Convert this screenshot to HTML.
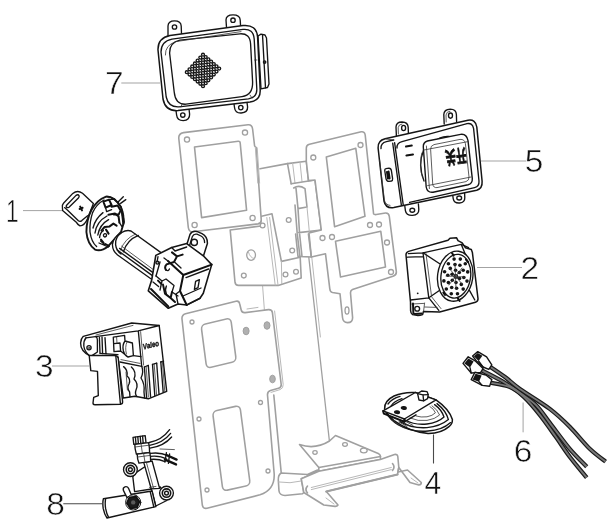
<!DOCTYPE html>
<html><head><meta charset="utf-8"><title>Parts diagram</title>
<style>
html,body{margin:0;padding:0;background:#fff;}
body{width:612px;height:527px;overflow:hidden;position:relative;font-family:"Liberation Sans",sans-serif;}
svg{position:absolute;left:0;top:0;display:block;}
.g{fill:none;stroke:#a0a0a0;stroke-width:1.6;stroke-linejoin:round;stroke-linecap:round;}
.gf{fill:#fff;stroke:#a0a0a0;stroke-width:1.6;stroke-linejoin:round;stroke-linecap:round;}
.gh{fill:#fff;stroke:#a0a0a0;stroke-width:1.3;}
.gd{fill:#b0b0b0;stroke:#a0a0a0;stroke-width:1;}
.g2{fill:none;stroke:#b8b8b8;stroke-width:1;stroke-linejoin:round;stroke-linecap:round;}
.k{fill:none;stroke:#151515;stroke-width:1.35;stroke-linejoin:round;stroke-linecap:round;}
.kf{fill:#fff;stroke:#151515;stroke-width:1.35;stroke-linejoin:round;stroke-linecap:round;}
.kt{fill:none;stroke:#333;stroke-width:0.8;stroke-linejoin:round;stroke-linecap:round;}
.kb{fill:none;stroke:#111;stroke-width:2;stroke-linejoin:round;stroke-linecap:round;}
.d{fill:#151515;stroke:none;}
.ld{fill:none;stroke:#999;stroke-width:0.9;}
text{filter:grayscale(1);}
.num{font-family:"Liberation Sans",sans-serif;font-size:31.6px;fill:#111;stroke:#fff;stroke-width:0.55px;}
</style></head>
<body>
<svg width="612" height="527" viewBox="0 0 612 527">
<rect width="612" height="527" fill="#fff"/>

<!-- ============ BRACKET (grey) ============ -->
<g id="bracket">
<!-- column -->
<path class="g2" d="M262.6,286 L264.4,310"/>
<path class="g" style="stroke-width:1.3" d="M308.8,257.4 L329.4,441"/>
<path class="g2" d="M311.7,256.6 L320.4,337"/>
<path class="g" d="M273.8,395 L281.2,472.5"/>
<!-- middle piece D -->
<path class="gf" d="M230.2,230 L235,282.2 Q235.4,285.4 238.5,285.4 L278.2,285.4 L301.2,278 L300.2,257.2 L281.4,261.4 L272,213.8 L260.5,216.5 L260.8,226 Z"/>
<path class="g2" d="M266.8,217.6 L275.2,285 M269.6,217.4 L278,284.8 M281.4,261.4 L281.8,283.6"/>
<ellipse class="gh" cx="251.1" cy="255.1" rx="4.4" ry="5.2"/><path class="g2" d="M248.4,252 Q250,258 254.4,258.6"/>
<circle class="gh" cx="243.8" cy="275.6" r="2.4"/><circle class="gh" cx="285.5" cy="274.5" r="2.4"/><circle class="gh" cx="296" cy="271.8" r="2.4"/>
<circle class="gh" cx="292.2" cy="250.5" r="2.4"/><circle class="gh" cx="288.7" cy="220" r="2.4"/><circle class="gh" cx="262.6" cy="225.5" r="2.4"/>
<path class="g" d="M295,205 L297.2,233.4 L300,257"/>
<!-- top-left plate A -->
<path class="gf" d="M178.8,138.5 Q178.3,133.6 183.5,132.6 L248,124.8 Q252,124.4 252.6,129 L254.6,146 L256.2,147.5 L261.2,219.5 Q261.5,223.3 258,223.9 L193,231.8 Q189,232.2 188.3,227.5 Z"/>
<path class="g2" d="M255.3,147 L257.8,183 M257.2,147.8 L259.6,183"/>
<path class="g" d="M194.5,147 L238.2,141.2 Q240,141 240.2,143 L246.6,210.3 L201.6,217.6 Z"/>
<circle class="gh" cx="187" cy="139.6" r="2.6"/><circle class="gh" cx="245" cy="132.6" r="2.6"/>
<circle class="gh" cx="252.6" cy="218" r="2.6"/><circle class="gh" cx="194.6" cy="225" r="2.6"/>
<!-- channel top -->
<path class="g" d="M260,168.8 L287.5,163.6 L306.3,161.2"/>
<path class="g" d="M287.5,163.6 L291.2,183.8 M306.3,161.2 L308.5,180.6"/>
<path class="g2" d="M292.6,163 L295,183 M300,162 L302,181.5"/>
<path class="g" d="M291.2,183.8 L315,180 L321.3,230 L298.8,232.6"/>
<path class="g2" d="M318.6,180.4 L325,229.6"/>
<path class="g" d="M293.7,188 Q299,184.5 305,188.6 L307,207 L298,208.6 L296,188.4 M298,208.6 L299.5,232.5"/>
<path class="g2" d="M307,207 L309.3,231.4"/>
<!-- right plate B+C -->
<path class="gf" d="M306.3,161.2 L306.3,148 Q306.4,145 309.5,144.3 L361.2,131.8 Q364.6,131.2 365.2,135 L373.6,214 Q374.5,214.8 376.3,214.5 L385.5,213 Q388.8,212.8 389.3,216.3 L396.3,271.3 Q396.8,275.2 393,276.3 L352.5,289.5 Q350.4,290.4 350.5,293 L352.6,317.5 Q352.8,322.6 347.5,322.6 Q343,322.6 342.5,317.5 L340,293.8 L332.5,292.5 Q330,292 329.8,288.8 L325.5,253.8 L311.3,257 L309,233 L321.3,230 L315,180 L308.5,180.6 Z"/>
<path class="g" d="M326.3,157 L355.8,148.3 L365,216.3 L334.6,226.8 Z"/>
<path class="g" d="M335.5,241.3 L380.8,231.3 L385.5,267 L340.5,277 Z"/>
<circle class="gh" cx="313.3" cy="157.5" r="2.5"/><circle class="gh" cx="360.5" cy="145" r="2.5"/>
<circle class="gh" cx="322.5" cy="238" r="2.5"/><circle class="gh" cx="332" cy="237" r="2.5"/>
<circle class="gh" cx="370" cy="225" r="2.5"/><circle class="gh" cx="379" cy="224.5" r="2.5"/>
<circle class="gh" cx="387" cy="242.5" r="2.5"/><circle class="gh" cx="391" cy="272" r="2.5"/>
<ellipse class="gh" cx="347" cy="310.5" rx="2" ry="3.6"/>
<!-- channel bottom fold -->
<path class="g" d="M295.6,234 L298,256.4 L311.3,257 M299.6,234 L302,256.4 M308.4,234 L311.3,256.8"/>
<!-- lower-left plate E -->
<path class="gf" d="M182,319 Q181.6,315 185.5,313.8 L236,301.2 Q239,300.6 239.6,303.5 L241.2,310 Q242,313 245.2,312.6 L268.5,309.6 Q272,309.4 272.4,312.6 L281.2,384.5 Q281.4,387.4 278.5,388.2 L270.5,390.6 Q267.3,391.6 267.5,395 L274.2,474 Q274.8,490 260,494.8 L207,508.2 Q203,509 202.3,505 Z"/>
<path class="g2" d="M274.6,311 L283.2,384.5 Q283.4,388.4 280,389.6 L271,392.4 M247,309 L258,307.4"/>
<rect class="g" x="0" y="0" width="30.5" height="43.5" rx="4.5" transform="translate(201,325) rotate(-13.5) skewX(-6)"/>
<rect class="g" x="0" y="0" width="28" height="80" rx="4.5" transform="translate(212.5,411.5) rotate(-12.5) skewX(-5)"/>
<circle class="gh" cx="192" cy="322" r="2"/><ellipse class="gd" cx="246.1" cy="331" rx="3" ry="3.8"/><ellipse class="gd" cx="267" cy="325.5" rx="3" ry="3.8"/>
<ellipse class="gd" cx="272.5" cy="379" rx="2.8" ry="3.8"/><circle class="gh" cx="260.5" cy="402.5" r="2"/><circle class="gh" cx="199" cy="419" r="2"/>
<circle class="gh" cx="268" cy="471" r="2"/><circle class="gh" cx="207" cy="490" r="2"/>
<!-- base G -->
<path class="gf" d="M281.3,473 Q278,475 278.3,480 L279,491 Q279.6,495.4 285,495.5 L302.5,493.8 L303.8,492.5 L301.3,478.8 L318.8,471.3 L317.5,470 L307.5,474.5 Z"/>
<path class="g2" d="M278.6,482 Q290,484 301.5,481"/>
<path class="gf" d="M299.5,444.5 Q315,450 329.5,441 L335.5,435.5 L378.8,453.8 Q380.6,455 380.5,456.5 L380.3,459.5 L318.8,471.3 L318.8,467.5 Z"/>
<path class="g" d="M318.8,467.5 L380.5,456.5"/>
<ellipse class="gh" cx="315" cy="452.5" rx="2.2" ry="1.8"/><ellipse class="gh" cx="345" cy="444.5" rx="2.4" ry="1.8"/><ellipse class="gh" cx="363.8" cy="450.5" rx="3.4" ry="2.4"/>
<path class="gf" d="M301.3,478.8 L318.8,471.3 L380.3,459.5 L394.5,454.5 Q397.5,454 397.8,456.5 L398.8,467.5 L397.5,474.5 L326.3,491.5 L338,505 Q337,506.6 335,506.4 L323.8,505 L303.8,492.5 Z"/>
<path class="g2" d="M311.3,487.5 L391.3,467.5 M311.3,489.6 L391.3,469.6" />
<path class="g" style="stroke-width:2.2" d="M326.3,491.5 L397.5,474.5"/>
<path class="g" d="M307.5,486 Q304.5,489.5 307.5,493 M392.5,463.5 Q395.5,467 392.5,470.5"/>
<path class="gf" d="M398.8,467.5 L410,482.5 L418.8,485 Q421.5,484.6 421.3,482.5 L407.5,470 L398,472 Z"/>
<path class="g2" d="M326,498 L334,504 M411,478 L418,483"/>

</g>

<!-- ============ PARTS (black) ============ -->
<g id="p7"><path class="kf" d="M168,35.5 L168,26 Q168.2,20.8 174.5,20.8 Q181,20.8 181.2,26 L181.5,33.5"/>
<path class="kf" d="M226.5,27.5 L226,20 Q226,14.8 233,14.8 Q240,14.8 240.2,20 L240.6,26"/>
<path class="kf" d="M176,110.5 L176.6,115 Q177.2,120.6 183.2,120.6 Q190,120.2 189.6,114 L189,109"/>
<path class="kf" d="M234,104 L234.6,108 Q235.2,113.2 241.2,113 Q247.8,112.6 247.6,107 L247,102.5"/>
<path class="kf" d="M258,36 L261,34.2 L265,35 L266.5,38 L269,84 L267.5,87.5 L261,88.8 Z"/>
<path class="k" d="M262.5,35 L265.5,87.8"/>
<circle class="k" cx="264.6" cy="62" r="1.2"/>
<path class="kf" style="stroke-width:1.5" d="M158,50 Q157.6,38 170,35.5 L243,25.5 Q256.5,24.2 257.6,37 L260.2,90 Q260.6,100.4 250,102 L178,110.6 Q165.4,111.4 163,99 Z"/>
<path class="k" d="M161,52 Q161,41.5 172,39.2 L243,29.4 Q253.4,28.4 254.2,39 L256.8,89 Q257.2,97.4 248.4,98.8 L179,106.8 Q168.4,107.4 166.2,97 Z"/>
<path class="k" d="M169.6,53 Q169.4,42.5 180,40.2 L240,33.8 Q250,33.2 250.6,44 L252.6,82 Q253,95 242,96.6 L186,104.2 Q175.4,104.8 174.2,92 Z"/>
<path class="kt" d="M165.4,55 Q165,45 176,41.6 L241,31.6 M254.6,60 L257,60 M252,98 L250,95 M181,107 L182,104"/>
<circle class="k" cx="174.5" cy="27" r="2.2"/><circle class="k" cx="233" cy="20.2" r="2.2"/><circle class="k" cx="182.8" cy="115" r="2.2"/><circle class="k" cx="240.8" cy="107.6" r="2.2"/>
<g fill="none" stroke="#151515" stroke-width="1.35"><circle cx="203.0" cy="54.7" r="1.45"/><circle cx="200.3" cy="57.6" r="1.45"/><circle cx="197.6" cy="60.5" r="1.45"/><circle cx="194.9" cy="63.4" r="1.45"/><circle cx="192.2" cy="66.4" r="1.45"/><circle cx="189.5" cy="69.3" r="1.45"/><circle cx="186.8" cy="72.2" r="1.45"/><circle cx="205.7" cy="57.0" r="1.45"/><circle cx="203.0" cy="59.9" r="1.45"/><circle cx="200.3" cy="62.8" r="1.45"/><circle cx="197.6" cy="65.8" r="1.45"/><circle cx="194.9" cy="68.7" r="1.45"/><circle cx="192.2" cy="71.6" r="1.45"/><circle cx="189.5" cy="74.5" r="1.45"/><circle cx="208.4" cy="59.3" r="1.45"/><circle cx="205.7" cy="62.2" r="1.45"/><circle cx="203.0" cy="65.2" r="1.45"/><circle cx="200.3" cy="68.1" r="1.45"/><circle cx="197.6" cy="71.0" r="1.45"/><circle cx="194.9" cy="73.9" r="1.45"/><circle cx="192.2" cy="76.9" r="1.45"/><circle cx="211.1" cy="61.6" r="1.45"/><circle cx="208.4" cy="64.6" r="1.45"/><circle cx="205.7" cy="67.5" r="1.45"/><circle cx="203.0" cy="70.4" r="1.45"/><circle cx="200.3" cy="73.3" r="1.45"/><circle cx="197.6" cy="76.2" r="1.45"/><circle cx="194.9" cy="79.2" r="1.45"/><circle cx="213.8" cy="64.0" r="1.45"/><circle cx="211.1" cy="66.9" r="1.45"/><circle cx="208.4" cy="69.8" r="1.45"/><circle cx="205.7" cy="72.7" r="1.45"/><circle cx="203.0" cy="75.7" r="1.45"/><circle cx="200.3" cy="78.6" r="1.45"/><circle cx="197.6" cy="81.5" r="1.45"/><circle cx="216.5" cy="66.3" r="1.45"/><circle cx="213.8" cy="69.2" r="1.45"/><circle cx="211.1" cy="72.1" r="1.45"/><circle cx="208.4" cy="75.1" r="1.45"/><circle cx="205.7" cy="78.0" r="1.45"/><circle cx="203.0" cy="80.9" r="1.45"/><circle cx="200.3" cy="83.8" r="1.45"/><circle cx="219.2" cy="68.6" r="1.45"/><circle cx="216.5" cy="71.5" r="1.45"/><circle cx="213.8" cy="74.5" r="1.45"/><circle cx="211.1" cy="77.4" r="1.45"/><circle cx="208.4" cy="80.3" r="1.45"/><circle cx="205.7" cy="83.2" r="1.45"/><circle cx="203.0" cy="86.2" r="1.45"/></g></g>
<g id="p1"><!-- key -->
<path class="kf" d="M62.4,207 Q62,205 63.5,203.2 L72.8,193.4 Q77.5,189.6 82.5,193.2 L93.4,203.4 L87.6,218.4 Q84.5,225.8 80,225.8 Q77.6,224.6 76.6,222.6 L62.6,210.4 Z"/>
<path class="k" d="M64.6,207.6 L67.6,210.2 L78.4,220.8 Q80,222 81.8,220.6 L87.6,215.8"/>
<path class="k" d="M66.6,205.2 L76,195.4 Q78,194 79,195.6 Q79.6,196.8 78.4,198 L69,207.2 Q67.4,208.2 66.4,207 Q65.8,206 66.6,205.2 Z"/>
<path class="kb" d="M80.2,206.6 L82,210.4 M79.6,209 L82.6,207.8"/>
<!-- ring -->
<path class="kf" style="stroke-width:1.9" d="M106,196.6 Q97,200 91.4,210 Q86.4,220 86.4,232 Q87.4,244 95,249.6 Q101,252 108,246.4 L121,232 L124,222 L121,207 Q114,196 106,196.6 Z"/>
<path class="k" d="M104,200 Q96.6,204 92.6,212.6 Q89.4,222 90,232 Q91.4,242 96.6,246.6"/>
<path class="k" d="M106,196.6 Q114,196 121,207 Q124.6,214 123.6,224"/>
<!-- wires -->
<path class="k" d="M118.3,201.7 L123.3,196.7 M120.6,203.4 L125.8,199.6"/>
<!-- inner clips -->
<path class="kb" d="M103.4,201.6 L109,199.6 L111.6,205 L105.6,207.6 Z M111.6,206.8 L117.6,205.6 L120.6,210.6 L118.6,214.6 L113.6,214.4"/>
<path class="k" d="M105.6,207.6 L106.6,211.6 L111.6,209.6 M109,199.6 L114.6,199 L118.6,203.6 M121.4,210 L123,224"/>
<path class="kb" d="M108.4,214.8 L115,213.6 L118.6,216.6 L119.4,222.6"/>
<path class="k" d="M119.4,222.6 L122,226.6"/>
<path class="k" d="M95,233 Q96.6,221.6 107,216 M97.8,235 Q99.6,224.6 108.6,219.6 M93,228 Q95,219 103,212.6"/>
<path class="kb" d="M101.4,230.6 L104.6,227 L109.6,226.4 L113.4,223.6 L116.6,225.6"/>
<path class="k" d="M99.6,237.6 Q100,232.6 103.4,230.6 M103.4,235 Q104.8,232.6 106.4,234.2 Q107,236.6 104.8,237 Q103.4,236.6 103.4,235 Z M100.6,241 L104.6,244.4 M99,243 L108.4,247"/>
<path class="kb" d="M101,239.6 L103.6,242.8 M105.4,244 L109,246 M106,229.6 L108.6,233.6"/>
<!-- cylinder -->
<path class="kf" d="M121.7,232.5 Q126.5,229.6 131,231 L161,252.6 L152.6,280 L117.6,255 Q112.6,251.4 112.4,244.6 Q113,237.4 121.7,232.5 Z"/>
<path class="k" d="M121.7,232.5 Q114.8,237.6 115.6,244.6 Q116.2,250.4 121,254"/>
<path class="k" d="M138.4,235.4 Q127,240 123.4,251.8"/>
<path class="kt" d="M135.6,234 Q124.6,238.6 120.6,250"/>
<path class="k" d="M117.2,250 L153.4,276.4 M119.6,248.4 L154.4,273.6"/>
<path class="kt" d="M121.6,246.2 L155.2,271"/>
<!-- box -->
<path class="kf" style="stroke-width:1.5" d="M186.7,245 L190,234.4 Q192,230.4 196.8,231.4 L202,233.6 Q207.6,236.4 207.4,243.4 L203.3,256.4 Z"/>
<circle class="k" cx="194.3" cy="242.4" r="3.1"/>
<path class="k" d="M189.4,246 L192.4,236.4 Q193.6,233.6 197,234.2 L201,236 Q204.6,238 204.6,242.6"/>
<path class="kf" style="stroke-width:1.6" d="M155.8,255.4 L171.7,247.5 L186.7,243.6 L203.3,255.8 L211.7,264.6 L203.3,293.3 L200,298.3 L186.7,305 L178,304 L168.3,308.3 L148.3,290.8 L151.7,280 Z"/>
<path class="kb" d="M183.3,275 L211.7,264.6 M183.3,275 L180,291 L186.7,305 M168,261 L183.3,275"/>
<path class="k" d="M186,277.6 L208.6,269 M171.7,247.5 L175,251 L186.7,247 M180,291 L176,294 L178,304"/>
<path class="k" d="M195.6,281.4 L199.4,279.6 L198,287.6 L194.4,289.4 Z"/>
<path class="kb" d="M172,252.4 L177,256.4 L174,262 L166.6,264.4 M177,256.4 L182.6,254.6 M166.6,264.4 Q164,267 166,270"/>
<path class="k" d="M158,256.6 L157,262 M160,262 L156,276 M164,258 L168,261 M175,262.4 L181,268 M166,270 Q168.4,271.6 169.4,269"/>
<circle class="k" cx="157.4" cy="262.6" r="1.5"/>
<path class="k" d="M156,276 L162,281 L166,279 L174,285.6 L172,292 L178,296 M162,281 L160,290 M153,282 L158.6,286.6"/>
<path class="kb" d="M151,289 L168.3,306.4 M158,280.6 L161,283.6 M163,284.6 L165,293.6 L170.6,298 M172,292 L170.6,298 L175,302"/>
<path class="k" d="M166.4,286 Q164.6,290 166.4,294 M186.7,305 L200,298.3 M183,296 L201,288"/>
</g>
<g id="p3"><!-- body -->
<path class="kf" style="stroke-width:1.4" d="M83.3,336.3 L131.7,323 L159.2,325.5 L166.7,391.3 L148.3,398.8 L135,396.3 L123.3,398 L118,357 L90,356 Q80.4,351 80.6,343 Q81,338.4 83.3,336.3 Z"/>
<path class="k" d="M86,337.8 L138.3,330.8 L159.2,325.5 M138.3,330.8 L141.7,366.3"/>
<path class="kt" d="M96,335 L133,325.4 M140.6,331.6 L143.6,365"/>
<!-- hinge -->
<path class="k" d="M86,337.8 Q83.4,341 83.8,346 Q84.6,351.6 89.2,355.4 M95.8,336.6 Q97.4,337.6 97.4,340 L97.4,352 L92,355.6 M99.4,337.4 L100,353 M102,337 L102.6,353.6"/>
<circle class="k" cx="89" cy="347.8" r="2.1"/><circle class="kt" cx="89" cy="347.8" r="0.9"/>
<!-- knob -->
<path class="k" d="M113.3,337.2 L124.6,335.4 L125,341 L132.4,343 L133.4,355.6 L128,357 L120.6,351 L114,351.6 Z M114,343.6 L120,343 L120.6,351 M125,341 Q122,345 123.4,351 Q125,356 128,357"/>
<path class="kt" d="M116.6,336.8 L117,343.2 M127,342 Q124.6,347 126.4,354"/>
<path class="k" d="M105,337.6 L106,354 M100,353.4 L118,354.6 M133.4,355.6 L141,356.6"/>
<!-- lower curvy -->
<path class="k" d="M120,362 L141.7,366.3 M123.6,366.6 Q128,370 127,376 Q131,379 129,384 Q126.6,388 129.6,392 L130,396.6"/>
<path class="k" d="M131.4,367 Q137,372 134,379 Q139,384 136,390 Q134.6,394 137,396.6 M141.7,366.3 Q144,372 141,378 Q145,384 144,392 L144.6,398"/>
<path class="kt" d="M121,359.6 L140,363.4 M126,372 L127.4,390"/>
<!-- ribs -->
<path class="k" d="M144.4,367 L146.6,397.6 M148.3,365.4 L150.6,397 M152.5,364.4 L154.8,395.6 M156.7,363.2 L159,394 M160.8,362 L163.2,392.4"/>
<path class="k" d="M144.4,367 L148.3,365.4 M152.5,364.4 L156.7,363.2 M160.8,362 L163.6,361.2"/>
<path class="kt" d="M146.2,367 L148.4,397 M154.2,364.4 L156.6,395 M162.4,361.8 L164.8,392"/>
<!-- cover -->
<path class="kf" style="stroke-width:1.4" d="M89.2,355.5 L114.2,355.5 Q117.6,355.6 118.2,358 L122.6,401.6 Q122.8,404 120.6,404.2 L95,404.8 Q93,404.8 93,403 L93.7,397.4 L98.3,395.6 L97.5,371.4 L90.8,370.6 Z"/>
<path class="k" d="M115.8,356 L120.4,403.6"/>

<text transform="translate(143.6,349.4) rotate(-13) scale(1,1.25)" style="font-family:'Liberation Sans',sans-serif;font-weight:700;font-style:italic;font-size:6.2px;fill:#111;stroke:#111;stroke-width:0.3px;">Valeo</text>
</g>
<g id="p8"><!-- wires upper -->
<path class="k" d="M149.3,442.5 Q162,440 169.6,429.6 M149.6,445.4 Q163,443 170.6,433.4 M150,448.2 Q164,446 171.6,437"/>
<!-- wires lower -->
<path class="k" d="M150.2,453.4 Q160,452 168,455.6 M150.2,456.4 Q160,455.4 166.6,459 M150.6,459.4 Q158,458.6 165,461.6"/>
<path class="kt" d="M160,449 L174.4,449.6"/>
<path class="kb" style="stroke-width:2.4" d="M166.4,455 L176.6,459.6 M165,459.6 L176,464.4"/>
<path class="k" d="M166.4,452.6 L165,462 M169.6,454 L168.4,463.4"/>
<!-- lugs + web -->
<path class="kf" d="M132.8,476.6 L134.6,491.6 L151.6,489 L146,466 L136.4,472.4 Z"/>
<circle class="kf" cx="130.4" cy="469.6" r="6.9"/><circle class="k" cx="130.4" cy="469.6" r="4.2" style="stroke-width:1.6"/><circle class="k" cx="130.4" cy="469.6" r="1.9"/>
<path class="kf" d="M151.2,488.5 L160.4,487 L166.8,500.5 L155.8,506 Z"/>
<circle class="kf" cx="166.5" cy="493.1" r="6.9"/><circle class="k" cx="166.5" cy="493.1" r="4.2" style="stroke-width:1.6"/><circle class="k" cx="166.5" cy="493.1" r="1.9"/>
<!-- vertical tube -->
<path class="kf" d="M143.8,462.6 L152.1,461 L159.6,488.4 L151.2,488.8 Z"/>
<path class="kt" d="M146.4,462.4 L153.6,488.4 M149.4,487.4 L156,486.4"/>
<!-- fittings -->
<path class="kf" d="M133,437.4 L145.2,435.6 L146,442.8 L133.8,444.4 Z"/>
<path class="k" d="M135.4,437.2 L136,444 M137.8,436.8 L138.4,443.8 M140.2,436.4 L140.8,443.4 M142.6,436.2 L143.2,443.2"/>
<path class="kf" d="M134.8,444.4 L148.6,442.6 Q149.6,447.6 149.6,452.4 L136.4,454.2 Q134.8,449 134.8,444.4 Z"/>
<path class="kf" d="M137.2,454.2 L149.8,452.6 Q150.8,457 150.6,461.4 L139,463.2 Q137.2,459 137.2,454.2 Z"/>
<path class="kt" d="M135,447 L149.2,445.2 M141,443.6 L142.4,453.4 M137.6,457 L150.4,455.4 M143.6,453.4 L145,462.2"/>
<!-- horizontal tube -->
<path class="kf" style="stroke-width:1.4" d="M103.4,498.8 L152.1,491 L155.8,506.6 L107,518 Q104.4,514.6 103.2,508.4 Q102.4,502.6 103.4,498.8 Z"/>
<path class="k" d="M150.2,491.6 L153.8,507 M105.6,499 Q104.8,503 105.6,508.4 Q106.6,514 108.6,517.4"/>
<!-- peg -->
<path class="kf" d="M123.4,490.4 Q122.6,487.6 125,486.8 Q127.4,486.2 128.6,488.4 L131.6,495.6 L127,497.6 Z"/>
<!-- nut -->
<circle class="kf" cx="133.2" cy="502.4" r="7.6" style="stroke-width:1"/>
<path d="M129.4,497.2 L136.2,496.6 L139.6,501.8 L137,507.8 L130.2,508.4 L126.8,503 Z" fill="#1c1c1c" stroke="#111" stroke-width="1.6" stroke-linejoin="round"/>
<circle cx="133.2" cy="502.4" r="2.2" fill="#5a5a5a"/>
</g>
<g id="p5"><!-- tabs -->
<path class="kf" d="M396.4,136 L396,127 Q396.2,122 402,122 Q408,122.2 408.2,127.4 L408.4,133.6"/>
<path class="kf" d="M444.2,124 L443.8,114.6 Q444,109.2 450.2,109.2 Q456.2,109.4 456.4,114.6 L456.6,121.4"/>
<path class="kf" d="M404.8,206 L405.4,210.6 Q406.2,215.6 412.4,215.4 Q419,214.8 418.8,209.4 L418.4,204"/>
<path class="kf" d="M452.8,195.6 L453.2,198.6 Q454,203.4 459.6,203 Q465,202.4 464.8,197.6 L464.6,193.4"/>
<ellipse class="k" cx="403.6" cy="128" rx="2" ry="2.6"/><ellipse class="k" cx="450.5" cy="115.6" rx="2" ry="2.6"/>
<ellipse class="k" cx="412.3" cy="210.2" rx="2.4" ry="2"/><ellipse class="k" cx="459.2" cy="198" rx="2.4" ry="2"/>
<path class="kt" d="M398.4,134 L398.2,127.6 Q398.6,124.2 402,124 M446.2,122 L446,115 Q446.4,111.4 450,111.2"/>
<!-- body -->
<path class="kf" style="stroke-width:1.5" d="M378.1,148 Q377.6,140.6 385.1,138.8 L468,120.3 Q475.6,119 476.8,127 L482.1,181.3 Q482.6,188.6 476.7,190.2 L393.8,207.6 Q385.6,208.8 384,201 Z"/>
<path class="k" d="M381,148.6 Q380.6,143 386.4,141.6 L393.6,140 M392.7,143.2 L401.4,205.3 M394.6,142.6 L403.2,204.6"/>
<path class="k" d="M397,148 Q396.6,143 402,141.6 L467,123.6 Q472.6,122.6 473.6,128.6 L479,181 Q479.4,186.4 474.6,187.6 L409.6,202.4"/>
<path class="kt" d="M379.6,160 L384.4,200 Q385.4,205 390,205.4 M386,139 L394,140"/>
<!-- side connector -->
<path class="kf" d="M386,168.6 Q384.6,168.6 384.8,171 L386,178.6 Q386.6,181.4 389,181.4 L391.4,181 Q392.8,180.6 392.6,178.6 L391.4,170.6 Q391,168.2 389,168.2 Z"/>
<path class="kb" d="M388.6,171.6 L389.6,178.4 M387,172 L388,178.6"/>
<!-- marks -->
<path class="kb" style="stroke-width:2" d="M406,146.6 L411.8,145.6 M406.4,155.6 L413,154.4"/>
<!-- button base arc -->
<path class="k" d="M423.6,150 Q417.6,165 424,181 M433,143 Q440,135.6 449,136.4"/>
<path class="kt" d="M421.8,153 Q418.6,165 422.6,178"/>
<!-- button -->
<path class="kf" style="stroke-width:1.4" d="M423.3,147 Q423,142.4 427.4,141 L460.6,134.4 Q466.6,133.6 468,140.6 L472.3,178.6 Q472.6,183.6 468,184.8 L433,192.2 Q427.2,192.8 426.2,187 Z"/>
<path class="kt" d="M430.6,149 Q430.4,145.6 434,144.6 L460,139.4 Q464.6,139 465.4,143.6 L469,177 Q469.2,180.6 466,181.6 L437,187.6 Q433.4,188 432.8,184.6 Z"/>
<path class="kt" d="M426.4,146 L429.4,188.6 M424,150 L468,141.6 M427.6,185.6 L471,177"/>
<!-- text on button (upside-down) -->
<text x="0" y="0" transform="translate(465.4,148.6) rotate(172) scale(0.95,1.65)" style="font-family:'Liberation Sans','Noto Sans CJK SC',sans-serif;font-weight:700;font-size:11px;fill:#111;stroke:#111;stroke-width:0.45px;">开关</text>
</g>
<g id="p2"><path class="kf" style="stroke-width:1.5" d="M406,255 Q405.8,252.4 408.6,251.4 L448,240.3 L450,238.2 L456.6,237.8 L458,240.6 L462.2,242.8 L465.5,247.8 L471.3,249.5 L472.4,252.6 L478,298.7 Q478.2,301.4 475.5,302.2 L439.7,312 L423.4,311.6 L422.6,314.6 Q418,316.2 412.6,314.6 Q410.4,313 410.6,310 L410.5,302 Z"/>
<path class="k" d="M408.4,253.6 L423,252.8 L461.3,244.4 L468.6,247.6 M423,252.8 L428.8,297.8 L438.8,310.4 M410.6,300 L428.8,297.8 M407.6,257.2 L423.4,256.6"/>
<path class="k" d="M423,252.8 L439.7,263.7 M428.8,297.8 L439.7,290.3 M474.8,300 L469.6,290.6 M461.3,244.4 L466,256"/>
<path class="kt" d="M426,253.6 L431.6,296.8 L441,308.6 M411.6,304 L424,303.4 M424.6,307 L437,307.4 M423.6,311 L424.6,303"/>
<circle class="d" cx="417.7" cy="293.3" r="0.9"/>
<circle class="k" cx="417.2" cy="308.7" r="2.4"/><path class="kb" d="M413,303.6 L413.4,313.4 M414.6,314 L421.6,313.6"/>
<ellipse class="kf" cx="0" cy="0" rx="17.6" ry="25.2" transform="translate(455.2,276.2) rotate(8)"/>
<ellipse class="k" cx="0" cy="0" rx="14.8" ry="22" transform="translate(455.8,276.2) rotate(8)"/>
<path class="kb" d="M452,253 L453.6,255.6 M466,259.6 L468,262 M443.4,292.6 L445,295 M458,298.6 L459.6,301"/>
<g class="d"><circle cx="459.5" cy="278.5" r="1.8"/><circle cx="456.0" cy="282.5" r="1.8"/><circle cx="452.3" cy="280.3" r="1.8"/><circle cx="452.1" cy="274.3" r="1.8"/><circle cx="455.6" cy="270.3" r="1.8"/><circle cx="459.3" cy="272.5" r="1.8"/><circle cx="463.8" cy="277.5" r="1.8"/><circle cx="461.3" cy="284.4" r="1.8"/><circle cx="456.6" cy="288.2" r="1.8"/><circle cx="451.7" cy="287.5" r="1.8"/><circle cx="448.4" cy="282.6" r="1.8"/><circle cx="447.8" cy="275.3" r="1.8"/><circle cx="450.3" cy="268.4" r="1.8"/><circle cx="455.0" cy="264.6" r="1.8"/><circle cx="459.9" cy="265.3" r="1.8"/><circle cx="463.2" cy="270.2" r="1.8"/><circle cx="467.0" cy="281.1" r="1.8"/><circle cx="463.2" cy="289.1" r="1.8"/><circle cx="457.5" cy="293.7" r="1.8"/><circle cx="451.3" cy="293.7" r="1.8"/><circle cx="446.3" cy="289.0" r="1.8"/><circle cx="443.9" cy="280.9" r="1.8"/><circle cx="444.6" cy="271.7" r="1.8"/><circle cx="448.4" cy="263.7" r="1.8"/><circle cx="454.1" cy="259.1" r="1.8"/><circle cx="460.3" cy="259.1" r="1.8"/><circle cx="465.3" cy="263.8" r="1.8"/><circle cx="467.7" cy="271.9" r="1.8"/></g>
<circle class="k" cx="455.8" cy="276.4" r="1.8"/>
<path class="kt" d="M449,268 L462,284 M462,268 L449,285 M455,264 L456,289 M446,276 L465,277"/></g>
<g id="p4"><!-- dome -->
<path class="kf" style="stroke-width:1.5" d="M384.6,409 Q384,401 394,396 Q404,391.6 416,392.6 L436,399.9 Q449,409 452.4,419.4 Q452.6,424 449,426.6 Q441,433.6 428,433.4 Q409,431.6 394,420.6 Q388,415.6 384.6,409 Z"/>
<path class="k" d="M386,412.6 Q390,419.6 398,424.6 Q412,432.6 428,431 Q442,430.4 450.6,422.6"/>
<path class="k" d="M400,421.6 Q412,428.6 427,427.6 Q440,426.6 448.4,419.6 Q446,410.6 437,403.6"/>
<path class="k" d="M405,420 Q415,425.4 427,424 Q437.6,422.8 444,417 Q441.6,409.6 434.6,404.6"/>
<path class="kt" d="M410,418 Q418,421.6 427,420.4 Q435,419.2 439.6,415 Q437.6,409.6 432,405.8 M416,416 Q421,417.6 427,416.8 Q432.6,415.8 435.4,412.8 Q434,409 430,406.6"/>
<path class="kt" d="M396,423 L404,427.6 M399,422 L407,426.6 M402,421.6 L410,426 M406,421.6 L413,425.4 M392,420 L398,424.4"/>
<path class="k" d="M388,404 Q392,398.6 400,396.4 M391,406 Q394,401 402,398.6"/>
<!-- plate -->
<path class="kf" style="stroke-width:1.4" d="M383.1,410.9 L415.4,392.5 L436,399.9 L404.4,419 Z"/>
<path class="kb" d="M383.1,410.9 L383.8,413.6 L404.4,421.8 L404.4,419"/><path class="k" d="M404.4,421.8 L416,414.8"/>
<ellipse class="d" cx="397" cy="412.2" rx="3.1" ry="1.9" transform="rotate(8 397 412.2)"/>
<ellipse class="d" cx="403.8" cy="408" rx="3.1" ry="1.9" transform="rotate(8 403.8 408)"/>
<!-- nut -->
<path class="kf" d="M417.6,393.6 L421.6,391 L427,391.6 L428.2,394.6 L427.6,398.6 L423.6,400.8 L419,400 Z"/>
<path class="k" d="M417.6,393.6 L423,394.8 L428.2,394.6 M423,394.8 L423.6,400.8"/>
</g>
<g id="p6"><path d="M489.0,366.0 C491.7,367.8 499.9,373.2 505.0,377.0 C510.1,380.8 512.4,383.7 519.9,389.0 C527.4,394.3 541.5,402.6 549.8,408.9 C558.1,415.2 563.1,420.1 569.7,426.8 C576.4,433.5 583.7,443.0 589.7,448.8 C595.7,454.6 603.0,459.6 605.6,461.7" fill="none" stroke="#1a1a1a" stroke-width="4.3" stroke-linecap="butt"/>
<path d="M481.0,370.0 C484.5,371.8 495.5,377.2 502.0,381.0 C508.5,384.8 514.4,389.0 520.0,393.0 C525.6,397.0 530.9,399.9 535.9,404.9 C540.9,409.9 544.2,415.5 549.8,422.8 C555.4,430.1 563.6,441.5 569.7,448.8 C575.9,456.1 583.9,463.7 586.7,466.7" fill="none" stroke="#1a1a1a" stroke-width="4.3" stroke-linecap="butt"/>
<path d="M489.0,382.5 C492.5,383.2 504.2,384.6 510.0,387.0 C515.8,389.4 518.9,392.2 523.9,396.9 C528.9,401.5 534.5,408.2 539.8,414.9 C545.1,421.5 550.8,429.8 555.8,436.8 C560.8,443.8 564.6,449.9 569.7,456.7 C574.9,463.5 583.9,474.2 586.7,477.7" fill="none" stroke="#1a1a1a" stroke-width="4.3" stroke-linecap="butt"/>
<path d="M489.0,366.0 C491.7,367.8 499.9,373.2 505.0,377.0 C510.1,380.8 512.4,383.7 519.9,389.0 C527.4,394.3 541.5,402.6 549.8,408.9 C558.1,415.2 563.1,420.1 569.7,426.8 C576.4,433.5 583.7,443.0 589.7,448.8 C595.7,454.6 603.0,459.6 605.6,461.7" fill="none" stroke="#787878" stroke-width="1.9" stroke-linecap="butt"/>
<path d="M481.0,370.0 C484.5,371.8 495.5,377.2 502.0,381.0 C508.5,384.8 514.4,389.0 520.0,393.0 C525.6,397.0 530.9,399.9 535.9,404.9 C540.9,409.9 544.2,415.5 549.8,422.8 C555.4,430.1 563.6,441.5 569.7,448.8 C575.9,456.1 583.9,463.7 586.7,466.7" fill="none" stroke="#787878" stroke-width="1.9" stroke-linecap="butt"/>
<path d="M489.0,382.5 C492.5,383.2 504.2,384.6 510.0,387.0 C515.8,389.4 518.9,392.2 523.9,396.9 C528.9,401.5 534.5,408.2 539.8,414.9 C545.1,421.5 550.8,429.8 555.8,436.8 C560.8,443.8 564.6,449.9 569.7,456.7 C574.9,463.5 583.9,474.2 586.7,477.7" fill="none" stroke="#787878" stroke-width="1.9" stroke-linecap="butt"/>
<path class="kf" style="stroke-width:1.4" d="M463,363.4 L468.2,356.8 L475.6,361.2 L483,368.5 L480.7,372.4 L471.2,373 Z"/>
<path class="d" d="M464.4,363.4 L468.4,358.4 L473.6,361.6 L470,367.6 Z"/>
<path class="kf" style="stroke-width:1.4" d="M472.6,356 L477.8,351.6 L486.6,356.8 L491.8,364.9 L488.8,369.3 L483,367 L477,361.6 Z"/>
<path class="d" d="M473.8,356.2 L477.8,353 L482.4,355.8 L478.6,361 Z"/>
<path class="kf" style="stroke-width:1.4" d="M471.2,379.6 L474.9,372.2 L485.9,375 L491.8,379.6 L489.6,386.2 L482.2,385.4 Z"/>
<path class="d" d="M472.6,379.4 L475.6,373.8 L481.6,375.4 L479,381.8 Z"/>
<path class="k" d="M478.6,361 L483,367 M470,367.6 L471.2,373 M479,381.8 L482.2,385.4"/></g>

<!-- ============ LABELS ============ -->
<g id="labels"><text class="num" transform="translate(12.4,222.3) scale(0.72,1)" text-anchor="middle">1</text>
<text class="num" transform="translate(114.2,93.9) scale(1.06,1)" text-anchor="middle">7</text>
<text class="num" transform="translate(44.3,377.1) scale(1.06,1)" text-anchor="middle">3</text>
<text class="num" transform="translate(55.5,515.2) scale(1.06,1)" text-anchor="middle">8</text>
<text class="num" transform="translate(534.0,172.0) scale(1.06,1)" text-anchor="middle">5</text>
<text class="num" transform="translate(529.8,279.2) scale(1.06,1)" text-anchor="middle">2</text>
<text class="num" transform="translate(432.9,493.8) scale(0.95,1)" text-anchor="middle">4</text>
<text class="num" transform="translate(523.1,462.4) scale(1.06,1)" text-anchor="middle">6</text>
<path class="ld" d="M23,210.6 L62,210.6 M121.3,83 L160,83 M52,366 L89.4,366 M481,161 L526,161 M477,267.5 L522,267.5 M523.1,402.5 L523.1,432.3"/>
<path class="ld" style="stroke:#4a4a4a;stroke-width:1.1" d="M63.3,503.8 L102.5,503.8 M433.5,434.5 L433.5,463.5"/></g>
</svg>
</body></html>
